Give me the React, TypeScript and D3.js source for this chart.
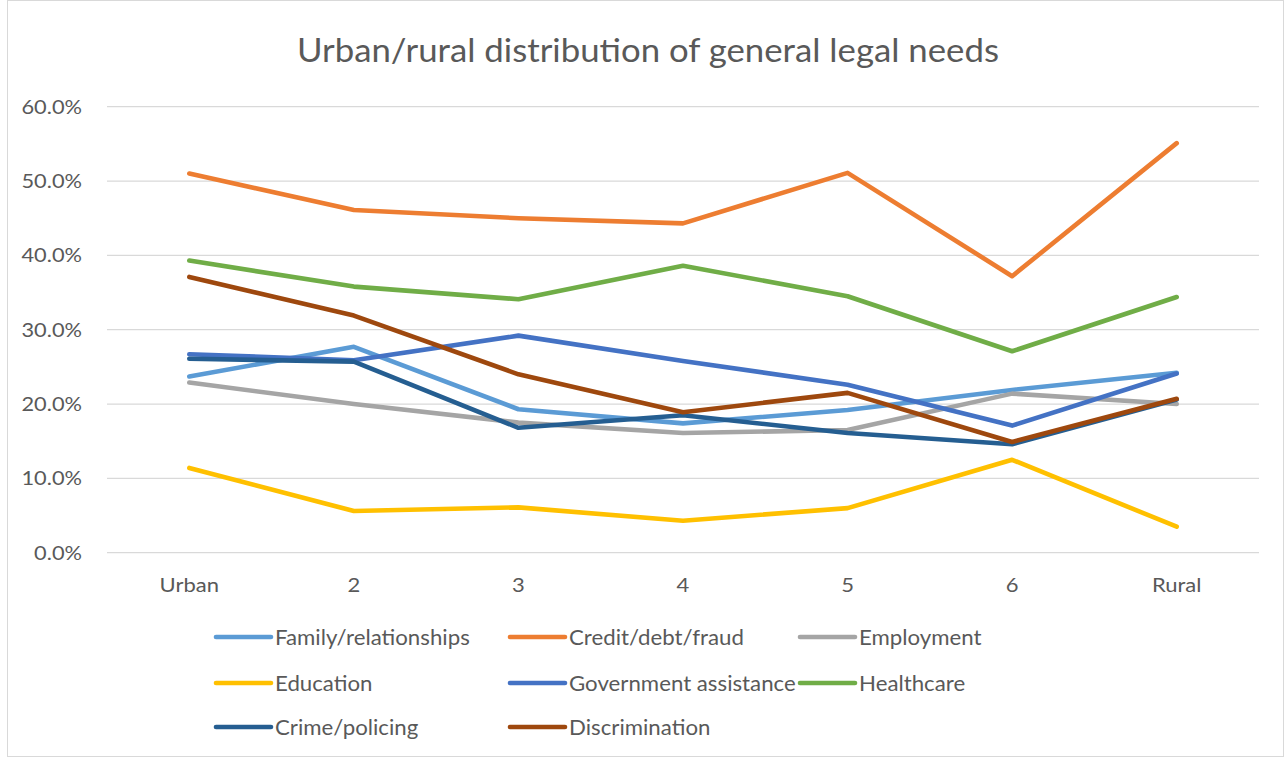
import React from "react";
import * as d3 from "d3";

const categories = ["Urban", "2", "3", "4", "5", "6", "Rural"];
const seriesNames = [
  "Family/relationships",
  "Credit/debt/fraud",
  "Employment",
  "Education",
  "Government assistance",
  "Healthcare",
  "Crime/policing",
  "Discrimination",
];
const family = [23.7, 27.7, 19.3, 17.4, 19.2, 21.9, 24.2];
const credit = [51.0, 46.1, 45.0, 44.3, 51.1, 37.2, 55.1];
const employment = [22.9, 20.0, 17.5, 16.1, 16.5, 21.4, 20.0];
const education = [11.4, 5.6, 6.1, 4.3, 6.0, 12.5, 3.5];
const government = [26.7, 25.9, 29.2, 25.8, 22.6, 17.1, 24.1];
const healthcare = [39.3, 35.8, 34.1, 38.6, 34.5, 27.1, 34.4];
const crime = [26.1, 25.7, 16.8, 18.5, 16.1, 14.6, 20.6];
const discrimination = [37.1, 31.9, 24.0, 18.9, 21.5, 14.9, 20.7];
const yTicks = [0, 10, 20, 30, 40, 50, 60];
const colors = ["#5B9BD5", "#ED7D31", "#A5A5A5", "#FFC000", "#4472C4", "#70AD47", "#255E91", "#9E480E"];

const allValues = [family, credit, employment, education, government, healthcare, crime, discrimination];

const W = 1287;
const H = 757;
const FONT = "Lato, 'Open Sans', sans-serif";

function T(props: { x: number; y: number; size: number; sx: number; anchor?: string; children: React.ReactNode }) {
  const { x, y, size, sx, anchor, children } = props;
  return (
    <text
      transform={`translate(${x},${y}) scale(${sx},1)`}
      textAnchor={anchor || "start"}
      fontSize={size}
      fill="#595959"
    >
      {children}
    </text>
  );
}

export default function App() {
  const x = d3.scalePoint<string>().domain(categories).range([107, 1259]).padding(0.5);
  const y = d3.scaleLinear().domain([0, 60]).range([552.7, 106.7]);
  const line = d3
    .line<number>()
    .x((_, i) => x(categories[i]) as number)
    .y((d) => y(d));

  const legendCols = [216, 510, 800];
  const legendRows = [637, 683, 727];

  return (
    <svg
      width={W}
      height={H}
      style={{ position: "absolute", left: 0, top: 0, background: "#fff" }}
      fontFamily={FONT}
    >
      <rect x={7.5} y={0.5} width={1276} height={756} fill="#fff" stroke="#d9d9d9" />
      <T x={648} y={62} size={32.5} sx={1.07} anchor="middle">
        Urban/rural distribution of general legal needs
      </T>
      {yTicks.map((t) => (
        <g key={t}>
          <line x1={107} x2={1259} y1={y(t)} y2={y(t)} stroke="#d9d9d9" strokeWidth={1.3} />
          <T x={82} y={y(t) + 7} size={20} sx={1.09} anchor="end">
            {d3.format(".1f")(t) + "%"}
          </T>
        </g>
      ))}
      {categories.map((c) => (
        <T key={c} x={x(c) as number} y={592} size={20} sx={1.1} anchor="middle">
          {c}
        </T>
      ))}
      {allValues.map((vals, i) => (
        <path
          key={seriesNames[i]}
          d={line(vals) || ""}
          fill="none"
          stroke={colors[i]}
          strokeWidth={4.6}
          strokeLinecap="round"
          strokeLinejoin="round"
        />
      ))}
      {seriesNames.map((name, i) => {
        const cx = legendCols[i % 3];
        const cy = legendRows[Math.floor(i / 3)];
        return (
          <g key={name}>
            <line x1={cx} x2={cx + 55} y1={cy} y2={cy} stroke={colors[i]} strokeWidth={4.6} strokeLinecap="round" />
            <T x={cx + 59} y={cy + 8} size={21} sx={1.06}>
              {name}
            </T>
          </g>
        );
      })}
    </svg>
  );
}
